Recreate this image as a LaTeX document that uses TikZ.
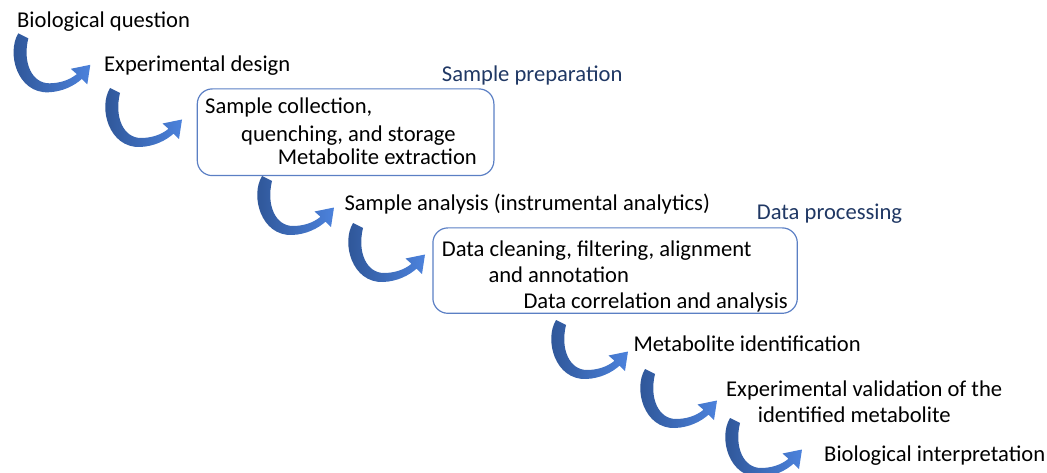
\documentclass[tikz,border=0pt]{standalone}
\usepackage{fontspec}
\setmainfont{Carlito}
\definecolor{arrdark}{HTML}{2D5393}
\definecolor{arrmid}{HTML}{3D69BA}
\definecolor{arrlight}{HTML}{4C82DC}
\definecolor{boxline}{HTML}{5B7FC4}
\definecolor{headblue}{HTML}{203864}
\tikzset{
  txt/.style={anchor=base west, inner sep=0pt, font=\fontsize{22.6}{26}\selectfont, text=black},
  head/.style={txt, text=headblue},
  stagebox/.style={draw=boxline, line width=1.2pt, rounded corners=15pt, anchor=north west, inner sep=0pt},
  curvarrow/.pic={
    \shade[left color=arrdark, middle color=arrmid, right color=arrlight]
      (6,0) .. controls (-6,20) and (5,60) .. (36,59)
      .. controls (50,58.5) and (62,52.5) .. (69.5,45.7)
      -- (75,51) -- (78,31.5) -- (58.5,35.5) -- (64.5,40.8)
      .. controls (57,47) and (47,50) .. (37,50)
      .. controls (20,50) and (10,30) .. (16,5) -- cycle;
  }
}
\begin{document}
\begin{tikzpicture}[x=1pt,y=-1pt]
\useasboundingbox (0,0) rectangle (1047,473);
% boxes
\node[stagebox, minimum width=296.6pt, minimum height=86.7pt] (box1) at (196.7,88.3) {};
\node[stagebox, minimum width=364.4pt, minimum height=85.4pt] (box2) at (432.3,227.3) {};
% texts
\node[txt] (t1) at (17,28) {Biological question};
\node[txt] (t2) at (104,72) {Experimental design};
\node[head] (h1) at (441.7,81.5) {Sample preparation};
\node[txt] (b1a) at (205,114) {Sample collection,};
\node[txt] (b1b) at (241,142) {quenching, and storage};
\node[txt] (b1c) at (277.7,165) {Metabolite extraction};
\node[txt] (t3) at (344.3,211) {Sample analysis (instrumental analytics)};
\node[head] (h2) at (756.7,220) {Data processing};
\node[txt] (b2a) at (441.7,256) {Data cleaning, filtering, alignment};
\node[txt] (b2b) at (488.3,282.7) {and annotation};
\node[txt] (b2c) at (523.3,308.3) {Data correlation and analysis};
\node[txt] (t4) at (633.3,351.7) {Metabolite identification};
\node[txt] (t5a) at (726,396.7) {Experimental validation of the};
\node[txt] (t5b) at (757.7,422.7) {identified metabolite};
\node[txt] (t6) at (824,461.7) {Biological interpretation};
% curved arrows
\pic at (12.3,33.3) {curvarrow};
\pic at (104,88) {curvarrow};
\pic at (256,176) {curvarrow};
\pic at (347,223) {curvarrow};
\pic at (550,320) {curvarrow};
\pic at (639,369) {curvarrow};
\pic at (724,418) {curvarrow};
\end{tikzpicture}
\end{document}
